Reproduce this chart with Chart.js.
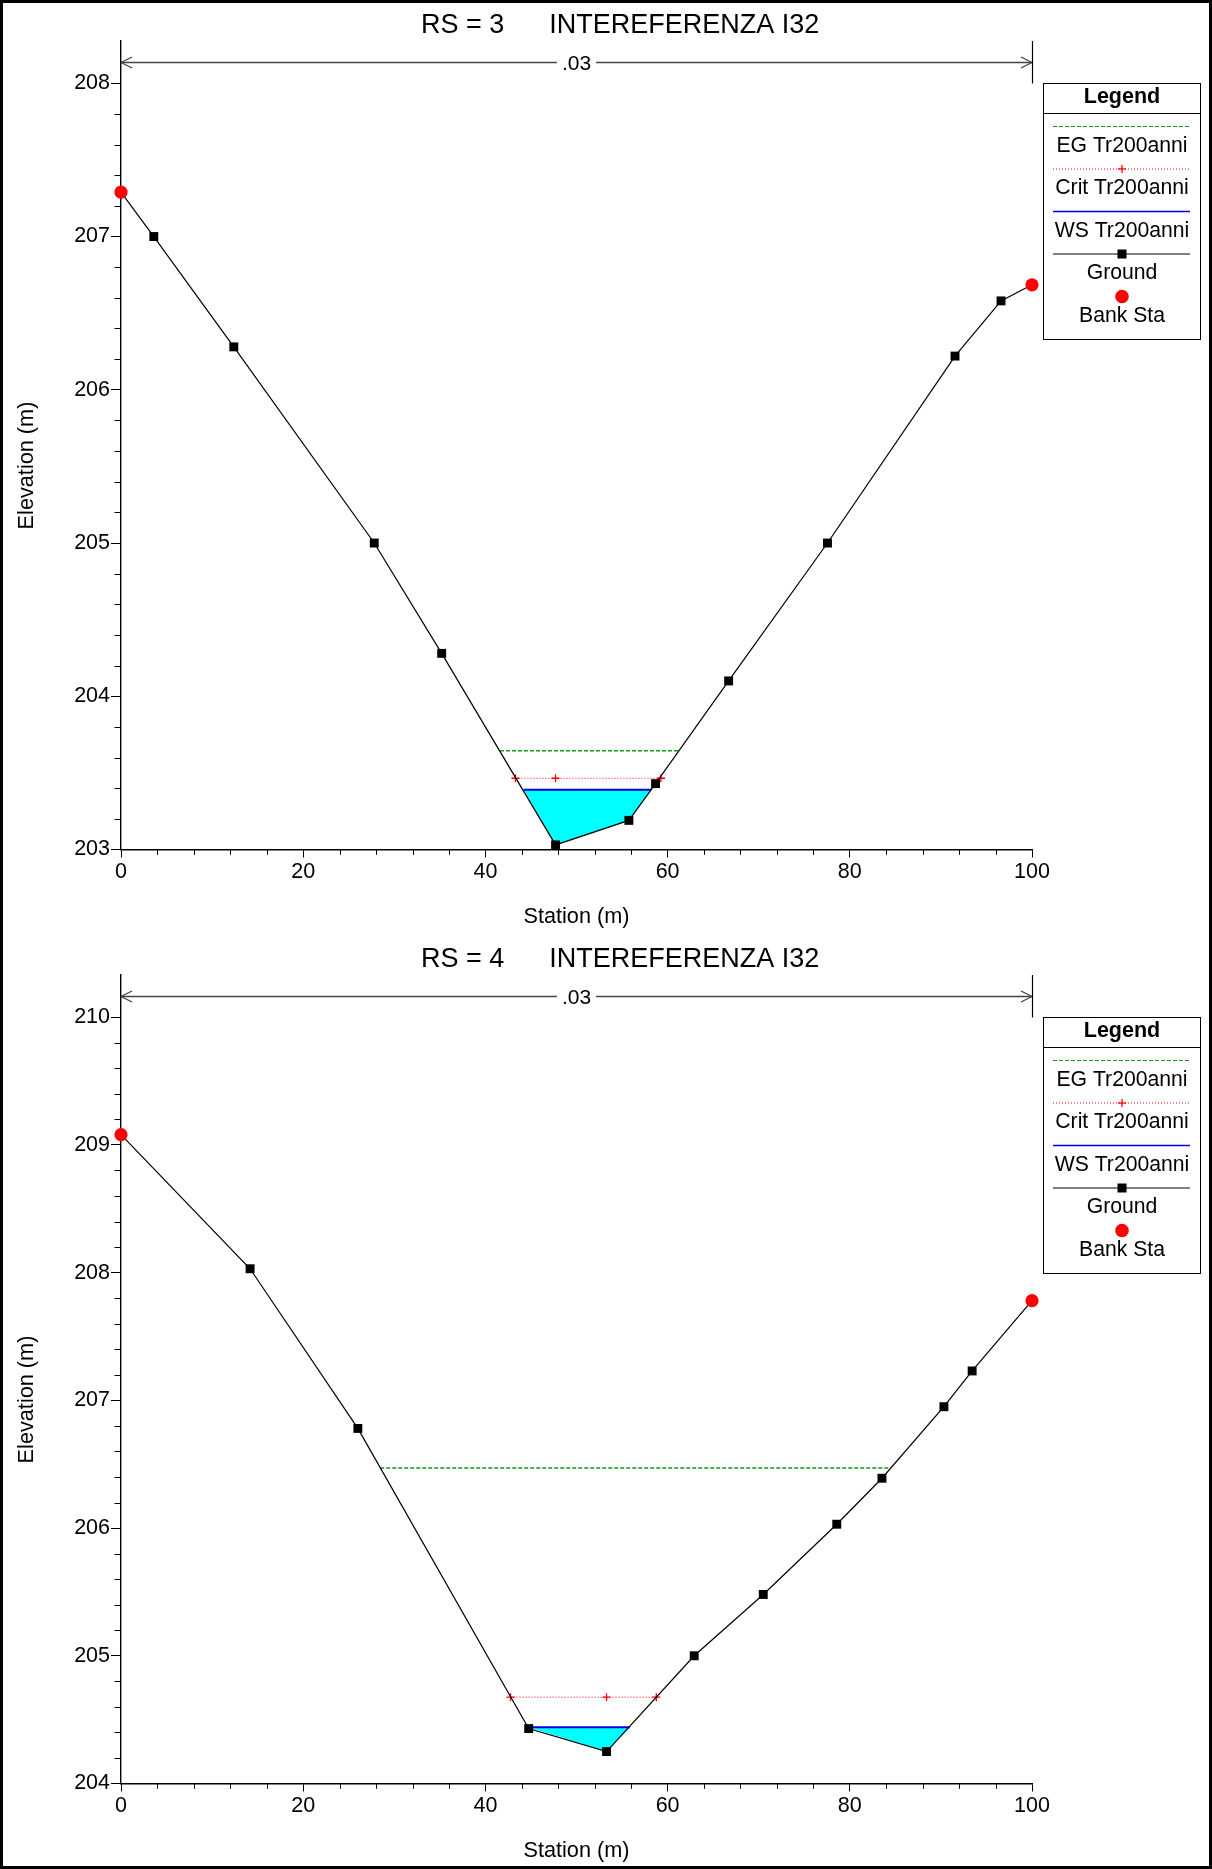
<!DOCTYPE html>
<html>
<head>
<meta charset="utf-8">
<script src="https://cdn.jsdelivr.net/npm/chart.js@4.4.1/dist/chart.umd.min.js"></script>
<style>
html,body{margin:0;padding:0;background:#fff;}
#wrap{position:relative;width:1212px;height:1869px;overflow:hidden;}
canvas{position:absolute;left:0;}
#frame{position:absolute;left:0;top:0;width:1212px;height:1869px;box-sizing:border-box;border:3px solid #000;pointer-events:none;}
</style>
</head>
<body>
<div id="wrap">
<canvas id="c1" width="1212" height="934" style="top:0px"></canvas>
<canvas id="c2" width="1212" height="935" style="top:934px"></canvas>
<div id="frame"></div>
</div>
<script>
// ---------- shared ----------
const stationTicks = [0, 20, 40, 60, 80, 100];
const legendLabels = ['EG Tr200anni', 'Crit Tr200anni', 'WS Tr200anni', 'Ground', 'Bank Sta'];
const xTitle = 'Station (m)';
const yTitle = 'Elevation (m)';
const nValueLabel = '.03';

// ---------- RS = 3 ----------
const rs3Title = 'RS = 3      INTEREFERENZA I32';
const rs3ElevTicks = [203, 204, 205, 206, 207, 208];
const rs3ElevRange = [203, 208.276];
const rs3GroundSta  = [0, 3.6, 12.38, 27.8, 35.2, 47.7, 55.75, 58.68, 66.7, 77.55, 91.55, 96.6, 100];
const rs3GroundElev = [207.29, 207.0, 206.28, 205.0, 204.28, 203.03, 203.19, 203.43, 204.10, 205.0, 206.22, 206.58, 206.685];
const rs3BankSta  = [0, 100];
const rs3BankElev = [207.29, 206.685];
const rs3WSElev = 203.39;
const rs3WSSta  = [44.2, 58.2];
const rs3CritElev = 203.465;
const rs3CritSta  = [43.3, 47.7, 59.27];
const rs3EGElev = 203.645;
const rs3EGSta  = [41.6, 61.25];

// ---------- RS = 4 ----------
const rs4Title = 'RS = 4      INTEREFERENZA I32';
const rs4ElevTicks = [204, 205, 206, 207, 208, 209, 210];
const rs4ElevRange = [204, 210.33];
const rs4GroundSta  = [0, 14.17, 26.0, 44.75, 53.3, 62.92, 70.5, 78.57, 83.53, 90.33, 93.43, 100];
const rs4GroundElev = [209.08, 208.03, 206.78, 204.43, 204.25, 205.0, 205.48, 206.03, 206.39, 206.95, 207.23, 207.78];
const rs4BankSta  = [0, 100];
const rs4BankElev = [209.08, 207.78];
const rs4WSElev = 204.44;
const rs4WSSta  = [44.75, 55.87];
const rs4CritElev = 204.676;
const rs4CritSta  = [42.76, 53.3, 58.76];
const rs4EGElev = 206.47;
const rs4EGSta  = [28.46, 84.5];

const FONT = '"Liberation Sans", Arial, Helvetica, sans-serif';
Chart.defaults.font.family = FONT;
Chart.defaults.color = '#000';

const COL = {eg:'#119911', crit:'#ff0000', ws:'#0000dd', ground:'#000000', bank:'#ff0000', water:'#00ffff'};

function buildDatasets(p) {
  const ground = p.groundSta.map((s, i) => ({x: s, y: p.groundElev[i]}));
  const water = [{x: p.wsSta[0], y: p.ws}]
    .concat(ground.filter(pt => pt.x > p.wsSta[0] && pt.x < p.wsSta[1]))
    .concat([{x: p.wsSta[1], y: p.ws}]);
  return [
    {label: legendLabels[0], data: p.egSta.map(s => ({x: s, y: p.eg})),
     borderColor: COL.eg, borderWidth: 1.5, borderDash: [4, 2], pointRadius: 0, fill: false, order: 5},
    {label: legendLabels[1], data: p.critSta.map(s => ({x: s, y: p.crit})),
     borderColor: COL.crit, borderWidth: 1, borderDash: [1, 2], pointStyle: 'cross', pointRadius: 4,
     pointBorderWidth: 1.3, pointBorderColor: COL.crit, pointBackgroundColor: COL.crit, fill: false, order: 4, clip: false},
    {label: legendLabels[2], data: p.wsSta.map(s => ({x: s, y: p.ws})),
     borderColor: COL.ws, borderWidth: 2, pointRadius: 0, fill: false, order: 3},
    {label: legendLabels[3], data: ground,
     borderColor: COL.ground, borderWidth: 1.2, pointStyle: 'rect', pointRadius: 6.3,
     pointBackgroundColor: COL.ground, pointBorderColor: COL.ground, pointBorderWidth: 0, fill: false, order: 2, clip: false},
    {label: legendLabels[4], data: p.bankSta.map((s, i) => ({x: s, y: p.bankElev[i]})),
     showLine: false, pointStyle: 'circle', pointRadius: 6.6,
     pointBackgroundColor: COL.bank, pointBorderColor: COL.bank, pointBorderWidth: 0, order: 1, clip: false},
    {label: 'water', data: water, borderWidth: 0, borderColor: 'rgba(0,0,0,0)',
     backgroundColor: COL.water, fill: {value: p.ws}, pointRadius: 0, order: 6}
  ];
}

function seg(ctx, x0, y0, x1, y1) { ctx.beginPath(); ctx.moveTo(x0, y0); ctx.lineTo(x1, y1); ctx.stroke(); }

function drawLegend(ctx) {
  const L = 1043.5, T = 83.5, W = 157, H = 256, cx = L + W / 2;
  ctx.fillStyle = '#fff'; ctx.fillRect(L, T, W, H);
  ctx.strokeStyle = '#000'; ctx.lineWidth = 1; ctx.setLineDash([]);
  ctx.strokeRect(L, T, W, H);
  seg(ctx, L, 113.5, L + W, 113.5);
  ctx.fillStyle = '#000'; ctx.textAlign = 'center'; ctx.textBaseline = 'alphabetic';
  ctx.font = 'bold 21.5px ' + FONT;
  ctx.fillText('Legend', cx, 103);
  ctx.font = '21.2px ' + FONT;
  const x0 = 1053, x1 = 1190;
  for (let i = 0; i < legendLabels.length; i++) {
    const ly = 126.5 + 42.5 * i;
    ctx.save();
    if (i === 0) { ctx.strokeStyle = COL.eg; ctx.lineWidth = 1; ctx.setLineDash([4, 2]); seg(ctx, x0, ly, x1, ly); }
    if (i === 1) {
      ctx.strokeStyle = COL.crit; ctx.lineWidth = 1; ctx.setLineDash([1, 2]); seg(ctx, x0, ly, x1, ly);
      ctx.setLineDash([]); ctx.lineWidth = 1.3; seg(ctx, cx - 4, ly, cx + 4, ly); seg(ctx, cx, ly - 4, cx, ly + 4);
    }
    if (i === 2) { ctx.strokeStyle = COL.ws; ctx.lineWidth = 1.5; seg(ctx, x0, ly, x1, ly); }
    if (i === 3) { ctx.strokeStyle = COL.ground; ctx.lineWidth = 1; seg(ctx, x0, ly, x1, ly); ctx.fillStyle = '#000'; ctx.fillRect(cx - 4.5, ly - 4.5, 9, 9); }
    if (i === 4) { ctx.fillStyle = COL.bank; ctx.beginPath(); ctx.arc(cx, ly, 6.8, 0, Math.PI * 2); ctx.fill(); }
    ctx.restore();
    ctx.fillStyle = '#000';
    ctx.fillText(legendLabels[i], cx, ly + 25.2);
  }
}

function decorPlugin(p) {
  return {
    id: 'hecDecor',
    afterDraw(chart) {
      const ctx = chart.ctx, xs = chart.scales.x, ys = chart.scales.y, ca = chart.chartArea;
      ctx.save();
      // minor ticks
      ctx.strokeStyle = '#000'; ctx.lineWidth = 1; ctx.setLineDash([]);
      const xMajor = stationTicks;
      for (let k = 0; k < xMajor.length - 1; k++) {
        for (let j = 1; j < 5; j++) {
          const v = xMajor[k] + (xMajor[k + 1] - xMajor[k]) * j / 5;
          const px = Math.round(xs.getPixelForValue(v)) + 0.5;
          seg(ctx, px, ca.bottom, px, ca.bottom + 5.3);
        }
      }
      const yMajor = p.elevTicks;
      for (let k = 0; k < yMajor.length - 1; k++) {
        for (let j = 1; j < 5; j++) {
          const v = yMajor[k] + (yMajor[k + 1] - yMajor[k]) * j / 5;
          const py = Math.round(ys.getPixelForValue(v)) + 0.5;
          seg(ctx, ca.left - 6.5, py, ca.left, py);
        }
      }
      // title
      ctx.fillStyle = '#000'; ctx.textBaseline = 'alphabetic';
      ctx.font = '27px ' + FONT; ctx.textAlign = 'left';
      ctx.fillText(p.title, 421, 32.7);
      // n-value bar
      const xa = xs.getPixelForValue(0), xb = xs.getPixelForValue(100), yb = 62.5;
      ctx.font = '21px ' + FONT; ctx.textAlign = 'center';
      const cxm = (xa + xb) / 2;
      const tw = ctx.measureText(nValueLabel).width;
      ctx.fillText(nValueLabel, cxm, 70);
      ctx.strokeStyle = '#444'; ctx.lineWidth = 1.3;
      seg(ctx, xa, yb, cxm - tw / 2 - 5, yb);
      seg(ctx, cxm + tw / 2 + 5, yb, xb, yb);
      seg(ctx, xa + 11, yb - 5.5, xa, yb); seg(ctx, xa, yb, xa + 11, yb + 5.5);
      seg(ctx, xb - 11, yb - 5.5, xb, yb); seg(ctx, xb, yb, xb - 11, yb + 5.5);
      ctx.strokeStyle = '#000'; ctx.lineWidth = 1.2;
      const xv = Math.round(xb) + 0.5;
      seg(ctx, xv, ca.top, xv, 83.5);
      // axis titles
      ctx.fillStyle = '#000'; ctx.font = '21.7px ' + FONT; ctx.textAlign = 'center'; ctx.textBaseline = 'alphabetic';
      ctx.fillText(xTitle, (ca.left + ca.right) / 2, 922.5);
      ctx.save();
      ctx.translate(33, 465.5); ctx.rotate(-Math.PI / 2);
      ctx.fillText(yTitle, 0, 0);
      ctx.restore();
      // legend
      drawLegend(ctx);
      ctx.restore();
    }
  };
}

function makePanel(canvasId, p) {
  const canvas = document.getElementById(canvasId);
  const H = canvas.height;
  return new Chart(canvas, {
    type: 'line',
    data: {datasets: buildDatasets(p)},
    options: {
      responsive: false, animation: false, devicePixelRatio: 1, events: [],
      layout: {padding: {left: 0, right: 180, top: 41, bottom: 0}},
      plugins: {legend: {display: false}, tooltip: {enabled: false}, title: {display: false}},
      elements: {line: {tension: 0}},
      scales: {
        x: {
          type: 'linear', min: 0, max: 100,
          afterBuildTicks: s => { s.ticks = stationTicks.map(v => ({value: v})); },
          afterFit: s => { s.height = H - 849.5; },
          grid: {drawOnChartArea: false, drawTicks: true, tickLength: 8, color: '#000', lineWidth: 1},
          border: {display: true, color: '#000', width: 1.4},
          ticks: {font: {size: 21.5}, color: '#000', padding: 2, maxRotation: 0, autoSkip: false,
                  callback: v => String(v)}
        },
        y: {
          type: 'linear', min: p.range[0], max: p.range[1],
          afterBuildTicks: s => { s.ticks = p.elevTicks.map(v => ({value: v})); },
          afterFit: s => { s.width = 121; },
          grid: {drawOnChartArea: false, drawTicks: true, tickLength: 10, color: '#000', lineWidth: 1},
          border: {display: true, color: '#000', width: 1.4},
          ticks: {font: {size: 21.5}, color: '#000', padding: 1, autoSkip: false,
                  callback: v => String(v)}
        }
      }
    },
    plugins: [decorPlugin(p)]
  });
}

makePanel('c1', {
  title: rs3Title, elevTicks: rs3ElevTicks, range: rs3ElevRange,
  groundSta: rs3GroundSta, groundElev: rs3GroundElev, bankSta: rs3BankSta, bankElev: rs3BankElev,
  ws: rs3WSElev, wsSta: rs3WSSta, crit: rs3CritElev, critSta: rs3CritSta, eg: rs3EGElev, egSta: rs3EGSta
});
makePanel('c2', {
  title: rs4Title, elevTicks: rs4ElevTicks, range: rs4ElevRange,
  groundSta: rs4GroundSta, groundElev: rs4GroundElev, bankSta: rs4BankSta, bankElev: rs4BankElev,
  ws: rs4WSElev, wsSta: rs4WSSta, crit: rs4CritElev, critSta: rs4CritSta, eg: rs4EGElev, egSta: rs4EGSta
});
</script>
</body>
</html>
